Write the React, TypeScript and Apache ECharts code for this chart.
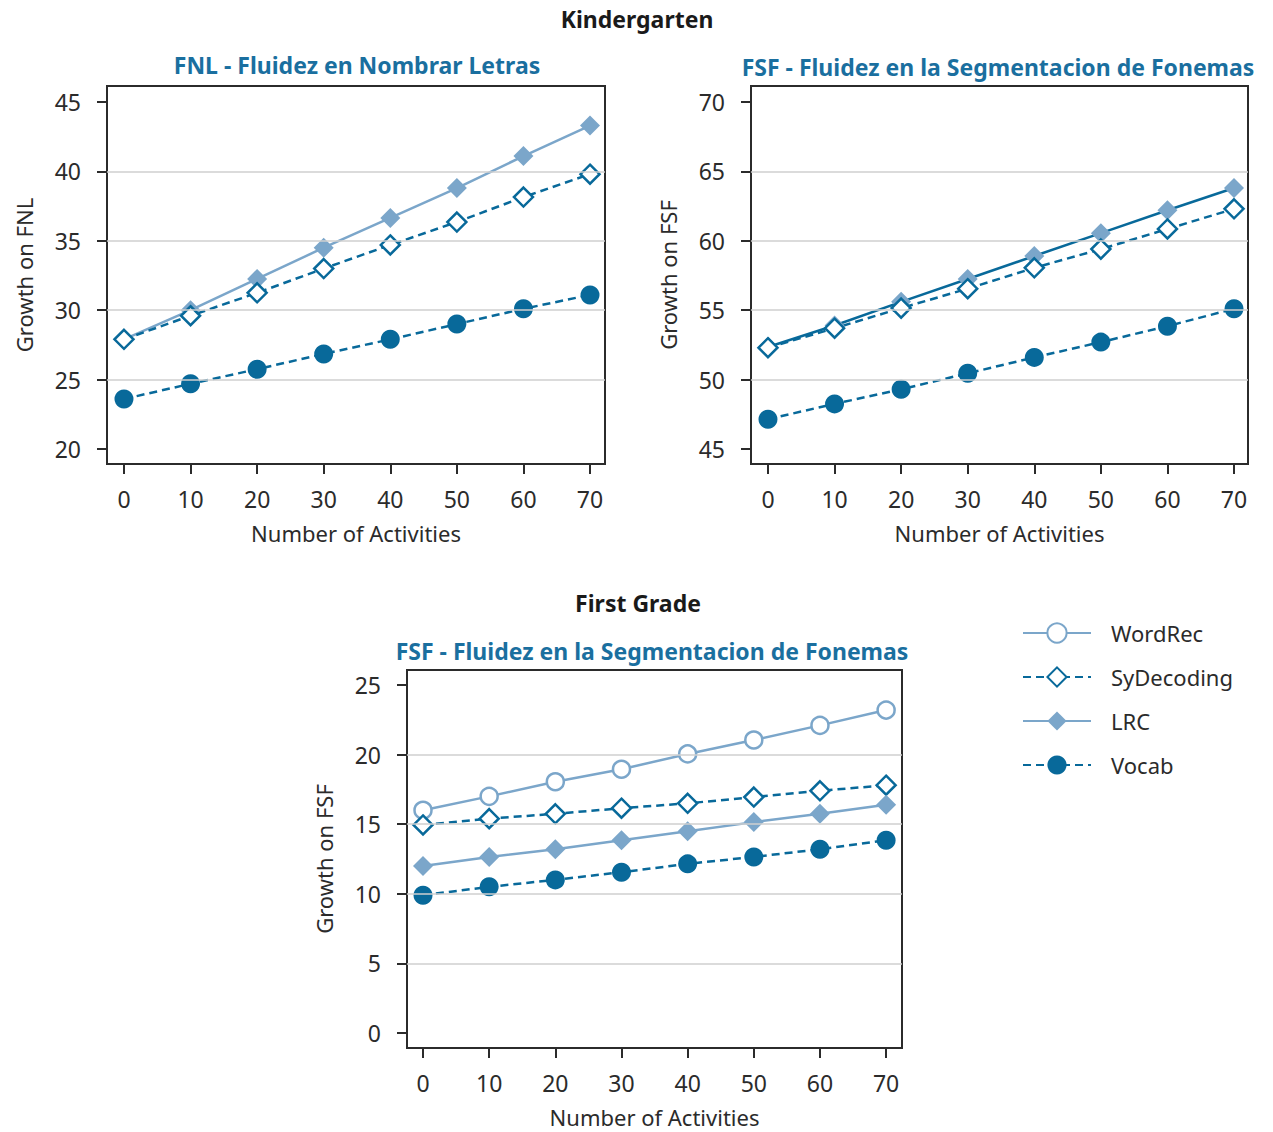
import React, { useEffect, useRef } from "react";
import * as echarts from "echarts";

const xVals = [0, 10, 20, 30, 40, 50, 60, 70];
const xTicks = [0, 10, 20, 30, 40, 50, 60, 70];

// Kindergarten FNL
const fnlLRC = [27.9, 30.0, 32.25, 34.5, 36.65, 38.8, 41.1, 43.3];
const fnlSyD = [27.9, 29.6, 31.25, 33.0, 34.7, 36.35, 38.15, 39.8];
const fnlVocab = [23.6, 24.7, 25.75, 26.85, 27.9, 29.0, 30.1, 31.1];
const fnlTicks = [20, 25, 30, 35, 40, 45];
const fnlGrid = [25, 30, 35, 40];

// Kindergarten FSF
const fsfLRC = [52.35, 53.9, 55.6, 57.25, 58.9, 60.55, 62.2, 63.8];
const fsfSyD = [52.3, 53.7, 55.15, 56.55, 58.05, 59.4, 60.85, 62.3];
const fsfVocab = [47.15, 48.25, 49.3, 50.45, 51.6, 52.7, 53.85, 55.1];
const fsfTicks = [45, 50, 55, 60, 65, 70];
const fsfGrid = [50, 55, 60, 65];

// First grade FSF
const g1WordRec = [16.0, 17.0, 18.05, 18.95, 20.05, 21.05, 22.1, 23.2];
const g1SyD = [14.95, 15.4, 15.75, 16.15, 16.5, 16.95, 17.4, 17.8];
const g1LRC = [12.0, 12.65, 13.2, 13.85, 14.5, 15.15, 15.75, 16.4];
const g1Vocab = [9.9, 10.5, 11.0, 11.55, 12.15, 12.65, 13.2, 13.85];
const g1Ticks = [0, 5, 10, 15, 20, 25];
const g1Grid = [5, 10, 15, 20];

const seriesNames = ["WordRec", "SyDecoding", "LRC", "Vocab"];

const DARK = "#08699a";
const LIGHT = "#7ba6ca";
const TITLE = "#1a6f9f";
const AXIS = "#2b2b2b";
const FONT = "'Noto Sans', sans-serif";

const pairs = (arr: number[]) => xVals.map((x, i) => [x, arr[i]]);

function styleFor(name: string, idx: number, lineColorOverride?: string) {
  const dashed = name === "SyDecoding" || name === "Vocab";
  const lineColor = lineColorOverride || (dashed ? DARK : LIGHT);
  let symbol = "circle";
  let symbolSize = 18;
  let itemStyle: any = {};
  if (name === "WordRec") {
    symbol = "circle";
    symbolSize = 17;
    itemStyle = { color: "#fff", borderColor: LIGHT, borderWidth: 2.5 };
  } else if (name === "SyDecoding") {
    symbol = "diamond";
    symbolSize = 19;
    itemStyle = { color: "#fff", borderColor: DARK, borderWidth: 2.5 };
  } else if (name === "LRC") {
    symbol = "diamond";
    symbolSize = 20;
    itemStyle = { color: LIGHT };
  } else {
    symbol = "circle";
    symbolSize = 19;
    itemStyle = { color: DARK };
  }
  return {
    type: "line",
    name,
    xAxisIndex: idx,
    yAxisIndex: idx,
    symbol,
    symbolSize,
    showSymbol: true,
    clip: false,
    itemStyle,
    lineStyle: { color: lineColor, width: 2.5, type: dashed ? [8, 5] : "solid" },
    emphasis: { disabled: true },
  };
}

function gridSeries(idx: number, vals: number[]) {
  return {
    type: "line",
    name: "grid" + idx,
    xAxisIndex: idx,
    yAxisIndex: idx,
    data: [],
    z: 1,
    silent: true,
    markLine: {
      silent: true,
      symbol: ["none", "none"],
      label: { show: false },
      lineStyle: { color: "#cfcfcf", width: 1.5, type: "solid" },
      data: vals.map((v) => ({ yAxis: v })),
    },
  };
}

function xAxis(idx: number, min: number, max: number) {
  return {
    gridIndex: idx,
    type: "value",
    min,
    max,
    name: "Number of Activities",
    nameLocation: "middle",
    nameGap: 58,
    nameTextStyle: { fontSize: 22, color: AXIS, fontFamily: FONT },
    axisLine: { show: true, onZero: false, lineStyle: { color: AXIS, width: 2 } },
    axisTick: { show: true, customValues: xTicks, length: 10, lineStyle: { color: AXIS, width: 2 } },
    axisLabel: { customValues: xTicks, margin: 23, fontSize: 23, color: AXIS, fontFamily: FONT },
    splitLine: { show: false },
  };
}

function yAxis(idx: number, min: number, max: number, ticks: number[], name: string) {
  return {
    gridIndex: idx,
    type: "value",
    min,
    max,
    name,
    nameLocation: "middle",
    nameGap: 72,
    nameTextStyle: { fontSize: 22, color: AXIS, fontFamily: FONT },
    axisLine: { show: true, onZero: false, lineStyle: { color: AXIS, width: 2 } },
    axisTick: { show: true, customValues: ticks, length: 10, lineStyle: { color: AXIS, width: 2 } },
    axisLabel: { customValues: ticks, margin: 26, fontSize: 23, color: AXIS, fontFamily: FONT },
    splitLine: { show: false },
  };
}

function textEl(text: string, x: number, y: number, size: number, color: string, weight: string) {
  return {
    type: "text",
    x,
    y,
    style: {
      text,
      textAlign: "center",
      textVerticalAlign: "middle",
      fill: color,
      font: `${weight} ${size}px ${FONT}`,
    },
  };
}

export default function App() {
  const ref = useRef<HTMLDivElement>(null);
  useEffect(() => {
    document.body.style.margin = "0";
    if (!ref.current) return;
    const chart = echarts.init(ref.current, undefined, { renderer: "svg" });
    const gridBox = { show: true, borderColor: AXIS, borderWidth: 2, containLabel: false };
    const option: any = {
      animation: false,
      textStyle: { fontFamily: FONT },
      grid: [
        { ...gridBox, left: 107, top: 86, width: 498, height: 378 },
        { ...gridBox, left: 751, top: 86, width: 497, height: 378 },
        { ...gridBox, left: 407, top: 670, width: 495, height: 378 },
      ],
      xAxis: [xAxis(0, -2.55, 72.25), xAxis(1, -2.55, 72.1), xAxis(2, -2.42, 72.4)],
      yAxis: [
        yAxis(0, 18.92, 46.15, fnlTicks, "Growth on FNL"),
        yAxis(1, 43.92, 71.15, fsfTicks, "Growth on FSF"),
        yAxis(2, -1.08, 26.08, g1Ticks, "Growth on FSF"),
      ],
      legend: {
        orient: "vertical",
        left: 1022,
        top: 621,
        padding: 0,
        itemWidth: 68,
        itemHeight: 24,
        itemGap: 20,
        data: seriesNames,
        textStyle: { fontSize: 22, color: AXIS, fontFamily: FONT, padding: [0, 0, 0, 15], lineHeight: 24 },
        selectedMode: false,
      },
      graphic: [
        textEl("Kindergarten", 637, 19, 23, "#1a1a1a", "bold"),
        textEl("FNL - Fluidez en Nombrar Letras", 357, 65, 23, TITLE, "bold"),
        textEl("FSF - Fluidez en la Segmentacion de Fonemas", 998, 67, 23, TITLE, "bold"),
        textEl("First Grade", 638, 603, 23, "#1a1a1a", "bold"),
        textEl("FSF - Fluidez en la Segmentacion de Fonemas", 652, 651, 23, TITLE, "bold"),
      ],
      series: [
        gridSeries(0, fnlGrid),
        gridSeries(1, fsfGrid),
        gridSeries(2, g1Grid),
        { ...styleFor("LRC", 0), data: pairs(fnlLRC) },
        { ...styleFor("SyDecoding", 0), data: pairs(fnlSyD) },
        { ...styleFor("Vocab", 0), data: pairs(fnlVocab) },
        { ...styleFor("LRC", 1, DARK), data: pairs(fsfLRC) },
        { ...styleFor("SyDecoding", 1), data: pairs(fsfSyD) },
        { ...styleFor("Vocab", 1), data: pairs(fsfVocab) },
        { ...styleFor("WordRec", 2), data: pairs(g1WordRec) },
        { ...styleFor("SyDecoding", 2), data: pairs(g1SyD) },
        { ...styleFor("LRC", 2), data: pairs(g1LRC) },
        { ...styleFor("Vocab", 2), data: pairs(g1Vocab) },
      ],
    };
    chart.setOption(option);
    return () => chart.dispose();
  }, []);
  return <div ref={ref} style={{ width: 1273, height: 1132 }} />;
}
